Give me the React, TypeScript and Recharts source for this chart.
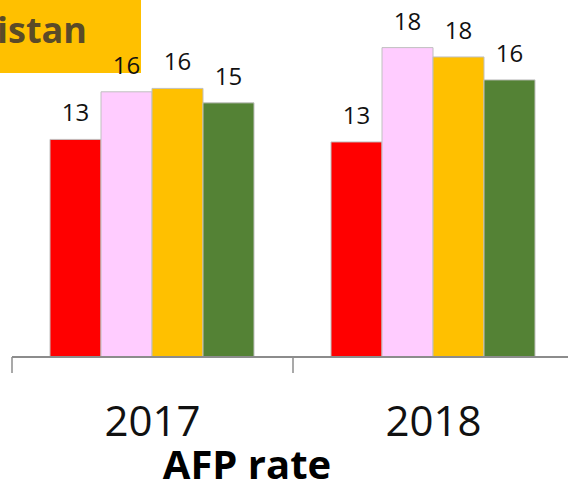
import { BarChart, Bar, XAxis, YAxis, LabelList, Label } from "recharts"

const years = ["2017", "2018"]
const redValues = [12.8, 12.65]
const pinkValues = [15.6, 18.2]
const yellowValues = [15.8, 17.65]
const greenValues = [14.95, 16.3]

const data = years.map((year, i) => ({
  year,
  red: redValues[i],
  pink: pinkValues[i],
  yellow: yellowValues[i],
  green: greenValues[i],
}))

const series = [
  { key: "red", fill: "#FF0000" },
  { key: "pink", fill: "#FFCCFF" },
  { key: "yellow", fill: "#FFC000" },
  { key: "green", fill: "#548235" },
]

const font = "'Open Sans', 'Liberation Sans', sans-serif"

function YearTick(props: any) {
  const { x, y, payload } = props
  const off = payload?.offset ?? 0
  return (
    <g>
      <line x1={x - off} x2={x - off} y1={y} y2={y + 16} stroke="#8c8c8c" strokeWidth={1.5} />
      <text x={x} y={y + 79} textAnchor="middle" fontSize={42} fill="#111" fontFamily={font}>
        {payload.value}
      </text>
    </g>
  )
}

export default function App() {
  return (
    <div style={{ position: "absolute", left: 0, top: 0, width: 568, height: 490, overflow: "hidden", background: "#fff" }}>
      <div style={{ position: "absolute", left: 0, top: 0, width: 141, height: 73, background: "#FFC000", overflow: "hidden" }}>
        <div
          style={{
            position: "absolute",
            right: 54,
            top: 5,
            whiteSpace: "nowrap",
            fontFamily: font,
            fontWeight: 700,
            fontSize: 36,
            color: "#5a4a28",
          }}
        >
          Afghanistan
        </div>
      </div>
      <div style={{ position: "absolute", left: 0, top: 0 }}>
        <BarChart
          width={574}
          height={490}
          data={data}
          margin={{ top: 17, right: 0, left: 12, bottom: 0 }}
          barCategoryGap={38}
          barGap={0}
        >
          <YAxis hide width={0} domain={[0, 20]} />
          <XAxis
            dataKey="year"
            height={133}
            interval={0}
            tickSize={0}
            tickMargin={0}
            tickLine={false}
            axisLine={{ stroke: "#8c8c8c", strokeWidth: 2 }}
            tick={<YearTick />}
          >
            <Label
              value="AFP rate"
              position="insideBottom"
              offset={11}
              dx={-46}
              fontSize={40}
              fontWeight={700}
              fill="#000"
              fontFamily={font}
            />
          </XAxis>
          {series.map((s) => (
            <Bar key={s.key} dataKey={s.key} fill={s.fill} stroke="#c0c0c0" strokeWidth={1} isAnimationActive={false}>
              <LabelList
                dataKey={s.key}
                position="top"
                offset={18}
                formatter={(v: any) => Math.round(Number(v))}
                fontSize={24}
                fill="#111"
                fontFamily={font}
              />
            </Bar>
          ))}
        </BarChart>
      </div>
    </div>
  )
}
